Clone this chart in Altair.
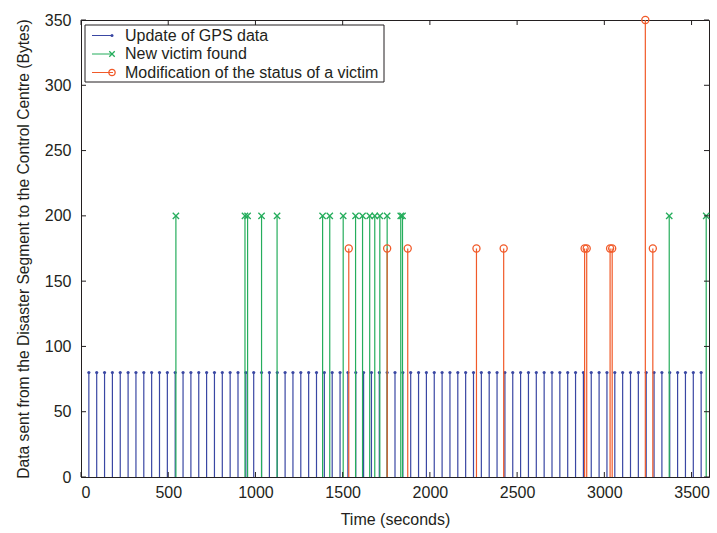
import altair as alt
import pandas as pd

# ---------------- data ----------------
gps_times = [45, 90, 135, 180, 225, 270, 315, 360, 405, 450, 495, 540, 585, 630, 675,
             720, 765, 810, 855, 900, 945, 990, 1035, 1080, 1125, 1170, 1215, 1260, 1305,
             1350, 1395, 1440, 1485, 1530, 1575, 1620, 1665, 1710, 1755, 1800, 1845, 1890,
             1935, 1980, 2025, 2070, 2115, 2160, 2205, 2250, 2295, 2340, 2385, 2430, 2475,
             2520, 2565, 2610, 2655, 2700, 2745, 2790, 2835, 2880, 2925, 2970, 3015, 3060,
             3105, 3150, 3195, 3240, 3285, 3330, 3375, 3420, 3465, 3510, 3555]
gps_bytes = [80] * len(gps_times)

victim_times = [544, 940, 955, 1035, 1124, 1385, 1426, 1503, 1574, 1614, 1655, 1684,
                1713, 1755, 1833, 1843, 3372, 3584]
victim_bytes = [200] * len(victim_times)

status_times = [1535, 1755, 1873, 2267, 2423, 2887, 2899, 3033, 3045, 3235, 3278]
status_bytes = [175, 175, 175, 175, 175, 175, 175, 175, 175, 350, 175]

legend_labels = ["Update of GPS data", "New victim found",
                 "Modification of the status of a victim"]

x_ticks = [0, 500, 1000, 1500, 2000, 2500, 3000, 3500]
y_ticks = [0, 50, 100, 150, 200, 250, 300, 350]
x_max = 3600
y_max = 350

# ---------------- styling ----------------
W, H = 628, 457
BLUE = "#3a47a3"
GREEN = "#25ad5c"
RED = "#f15a29"
DARK = "#231f20"
FONT = "Liberation Sans"

gps = pd.DataFrame({"t": gps_times, "b": gps_bytes})
vic = pd.DataFrame({"t": victim_times, "b": victim_bytes})
sta = pd.DataFrame({"t": status_times, "b": status_bytes})

xs = alt.Scale(domain=[0, x_max], nice=False, zero=False)
ys = alt.Scale(domain=[0, y_max], nice=False)

X = alt.X("t:Q", scale=xs,
          axis=alt.Axis(values=x_ticks, title="Time (seconds)", grid=False,
                        tickSize=0, labelPadding=7, titlePadding=11,
                        format="d"))
Y = alt.Y("b:Q", scale=ys,
          axis=alt.Axis(values=y_ticks,
                        title="Data sent from the Disaster Segment to the Control Centre (Bytes)",
                        grid=False, tickSize=0, labelPadding=10, titlePadding=13))

def stems(df, color):
    return alt.Chart(df).mark_rule(color=color, strokeWidth=1.2).encode(
        x=X, y=Y, y2=alt.datum(0))

gps_stem = stems(gps, BLUE)
gps_pt = alt.Chart(gps).mark_circle(color=BLUE, size=10, opacity=1).encode(x=X, y=Y)

XPATH = "M-1,-1L1,1M-1,1L1,-1"
vic_stem = stems(vic, GREEN)
vic_pt = alt.Chart(vic).mark_point(shape=XPATH, filled=False, color=GREEN,
                                   size=40, strokeWidth=1.3, opacity=1).encode(x=X, y=Y)

sta_stem = stems(sta, RED)
sta_pt = alt.Chart(sta).mark_point(shape="circle", filled=False, color=RED,
                                   size=50, strokeWidth=1.3, opacity=1).encode(x=X, y=Y)

# inward ticks (box style)
xt = pd.DataFrame({"t": x_ticks})
yt = pd.DataFrame({"b": y_ticks})
tick_b = alt.Chart(xt).mark_rule(color=DARK).encode(x=X, y=alt.value(H), y2=alt.value(H - 5))
tick_t = alt.Chart(xt).mark_rule(color=DARK).encode(x=X, y=alt.value(0), y2=alt.value(5))
tick_l = alt.Chart(yt).mark_rule(color=DARK).encode(y=Y, x=alt.value(0), x2=alt.value(5))
tick_r = alt.Chart(yt).mark_rule(color=DARK).encode(y=Y, x=alt.value(W - 5), x2=alt.value(W))

# legend (manual, MATLAB style)
LX0, LX1, LY0, LY1 = 4, 303, 5, 62
rows = [15.5, 34.0, 52.5]
colors = [BLUE, GREEN, RED]
one = pd.DataFrame({"label": legend_labels})
leg_layers = [
    alt.Chart(one.head(1)).mark_rect(fill="white", stroke=DARK, strokeWidth=1).encode(
        x=alt.value(LX0), x2=alt.value(LX1), y=alt.value(LY0), y2=alt.value(LY1))
]
for i, (lab, col, ry) in enumerate(zip(legend_labels, colors, rows)):
    d = pd.DataFrame({"label": [lab]})
    leg_layers.append(alt.Chart(d).mark_rule(color=col, strokeWidth=1).encode(
        x=alt.value(11), x2=alt.value(32), y=alt.value(ry)))
    if i == 0:
        m = alt.Chart(d).mark_circle(color=col, size=9, opacity=1)
    elif i == 1:
        m = alt.Chart(d).mark_point(shape=XPATH, filled=False, color=col, size=30,
                                    strokeWidth=1.3, opacity=1)
    else:
        m = alt.Chart(d).mark_point(shape="circle", filled=False, color=col, size=40,
                                    strokeWidth=1.3, opacity=1)
    leg_layers.append(m.encode(x=alt.value(31), y=alt.value(ry)))
    leg_layers.append(alt.Chart(d).mark_text(align="left", baseline="middle", fontSize=16,
                                             font=FONT, color=DARK).encode(
        x=alt.value(44), y=alt.value(ry), text="label:N"))

chart = alt.layer(
    gps_stem, gps_pt, vic_stem, vic_pt, sta_stem, sta_pt,
    tick_b, tick_t, tick_l, tick_r, *leg_layers
).properties(
    width=W, height=H,
    autosize=alt.AutoSizeParams(type="none"),
    padding={"left": 81, "top": 20, "right": 8, "bottom": 56},
    background="white",
).configure_view(
    stroke=DARK, strokeWidth=1
).configure_axis(
    domainColor=DARK, domainWidth=1,
    labelFont=FONT, labelFontSize=16, labelColor=DARK,
    titleFont=FONT, titleFontSize=16, titleFontWeight="normal", titleColor=DARK,
).configure_axisY(
    titleFontSize=15.6
)

chart.save("out.html", embed_options={"renderer": "svg", "actions": False})
